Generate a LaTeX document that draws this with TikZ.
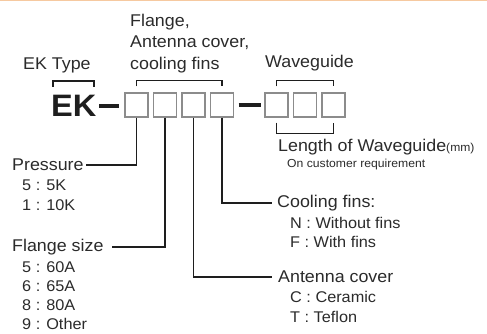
\documentclass[tikz,border=0pt]{standalone}
\usepackage{fontspec}
\setmainfont[FakeStretch=1.05]{Liberation Sans}
\definecolor{txt}{HTML}{2B2B2B}
\definecolor{boxgray}{HTML}{8C8C8C}
\definecolor{linec}{HTML}{1E1E1E}
\definecolor{topline}{HTML}{F6C9A0}
\begin{document}
\begin{tikzpicture}[x=1pt,y=-1pt,
  lbl/.style={font=\fontsize{17}{20}\selectfont, text=txt, inner sep=0pt, anchor=west},
  sublbl/.style={font=\fontsize{15.5}{18}\selectfont, text=txt, inner sep=0pt, anchor=west},
  cell/.style={draw=boxgray, line width=1.3pt, minimum width=23pt, minimum height=24pt, inner sep=0pt},
  lead/.style={draw=linec, line width=1.1pt},
  dashbar/.style={draw=linec, line width=4pt}]
\useasboundingbox (0,0) rectangle (487,334);
\fill[white] (0,0) rectangle (487,334);
\draw[topline, line width=1.5pt] (0,0.75) -- (487,0.75);

% top labels
\node[lbl] (fl1) at (130,22) {Flange,};
\node[lbl] (fl2) at (130,43) {Antenna cover,};
\node[lbl] (fl3) at (130,65) {cooling fins};
\node[lbl] (ektype) at (23,65) {EK Type};
\node[lbl] (wg) at (265,63) {Waveguide};

% EK
\node[font=\fontsize{31}{34}\selectfont\bfseries, text=linec, inner sep=0pt, anchor=west] (ek) at (51,105.5) {EK};

% boxes
\node[cell] (b1) at (136.5,105) {};
\node[cell] (b2) at (165,105) {};
\node[cell] (b3) at (193.5,105) {};
\node[cell] (b4) at (222,105) {};
\node[cell] (b5) at (276.5,105) {};
\node[cell] (b6) at (305,105) {};
\node[cell] (b7) at (333.5,105) {};

% dashes
\draw[dashbar] ([xshift=-25pt,yshift=-1.5pt]b1.west) -- ([xshift=-5pt,yshift=-1.5pt]b1.west);
\draw[dashbar] ([xshift=4.5pt]b4.east) -- ([xshift=-3pt]b5.west);

% brackets
\draw[lead] (53,87) -- (53,81) -- (94,81) -- (94,87);
\draw[lead] ([yshift=6pt]b1.north) -- ++(0,-6) -| ([yshift=6pt]b4.north);
\draw[lead] ([yshift=6pt]b5.north) -- ++(0,-6) -| ([yshift=6pt]b7.north);
\draw[lead] ([yshift=-5pt]b5.south) -- ++(0,11) -| ([yshift=-5pt]b7.south);

% waveguide length
\node[lbl] (len) at (278,147) {Length of Waveguide\fontsize{11.5}{12}\selectfont(mm)};
\node[sublbl, font=\fontsize{11.6}{14}\selectfont] (cust) at (287,165) {On customer requirement};

% left labels
\node[lbl] (pr) at (12,165) {Pressure};
\node[sublbl] (pr1) at (22,185) {5 : 5K};
\node[sublbl] (pr2) at (22,205) {1 : 10K};

\node[lbl] (fs) at (12,247) {Flange size};
\node[sublbl] (fs1) at (22,267) {5 : 60A};
\node[sublbl] (fs2) at (22,286) {6 : 65A};
\node[sublbl] (fs3) at (22,305) {8 : 80A};
\node[sublbl] (fs4) at (22,324) {9 : Other};

% right labels
\node[lbl] (cf) at (277,203) {Cooling fins:};
\node[sublbl] (cf1) at (290,223) {N : Without fins};
\node[sublbl] (cf2) at (290,242) {F : With fins};

\node[lbl] (ac) at (278,277) {Antenna cover};
\node[sublbl] (ac1) at (290,297) {C : Ceramic};
\node[sublbl] (ac2) at (290,317) {T : Teflon};

% leaders
\draw[lead] (b1.south) |- ([xshift=2pt]pr.east);
\draw[lead] (b2.south) |- ([xshift=8pt]fs.east);
\draw[lead] (b3.south) |- ([xshift=-6pt]ac.west);
\draw[lead] (b4.south) |- ([xshift=-5pt]cf.west);
\end{tikzpicture}
\end{document}
